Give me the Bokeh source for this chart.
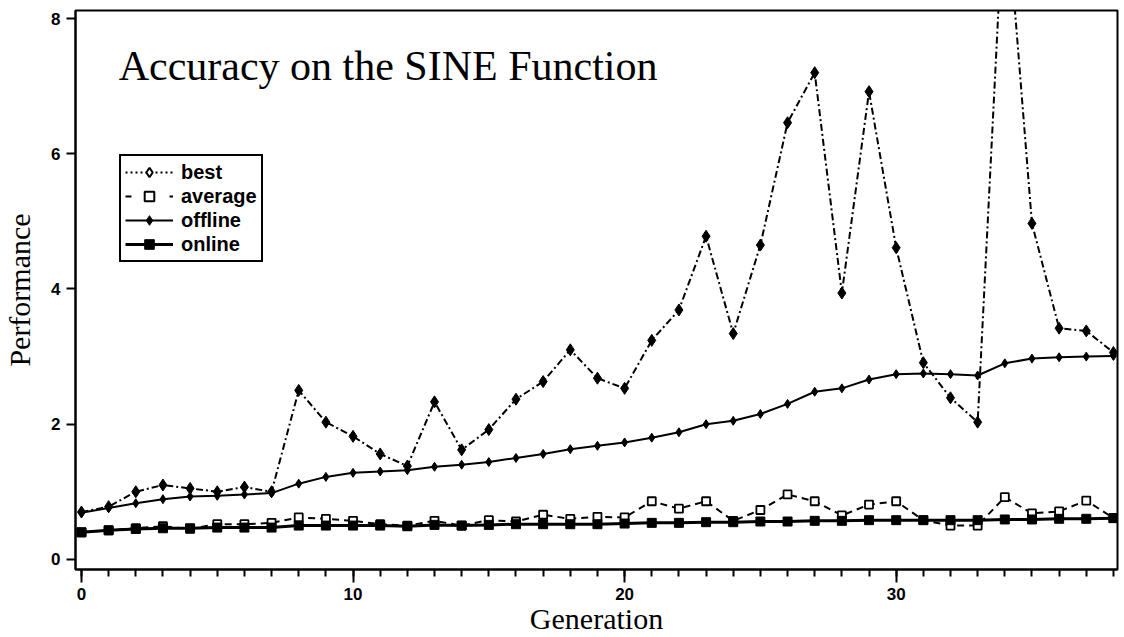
from bokeh.plotting import figure
from bokeh.models import (Legend, LegendItem, Label, FixedTicker, SingleIntervalTicker,
                          Range1d, ColumnDataSource)
from bokeh.embed import file_html
from bokeh.resources import INLINE

generation = list(range(39))
best = [0.70, 0.78, 1.00, 1.10, 1.05, 1.00, 1.07, 1.00, 2.50, 2.03,
        1.82, 1.56, 1.38, 2.33, 1.62, 1.92, 2.37, 2.63, 3.10, 2.68,
        2.53, 3.24, 3.69, 4.78, 3.34, 4.65, 6.46, 7.20, 3.94, 6.92,
        4.61, 2.91, 2.39, 2.03, 10.0, 4.97, 3.42, 3.38, 3.06]
average = [0.40, 0.43, 0.46, 0.49, 0.45, 0.52, 0.52, 0.54, 0.62, 0.60,
           0.57, 0.52, 0.50, 0.57, 0.50, 0.58, 0.56, 0.66, 0.60, 0.63,
           0.62, 0.86, 0.75, 0.86, 0.57, 0.73, 0.96, 0.86, 0.65, 0.81,
           0.86, 0.58, 0.50, 0.50, 0.92, 0.68, 0.71, 0.87, 0.61]
offline = [0.69, 0.76, 0.83, 0.89, 0.93, 0.94, 0.96, 0.98, 1.12, 1.22,
           1.28, 1.30, 1.32, 1.37, 1.40, 1.44, 1.50, 1.56, 1.63, 1.68,
           1.73, 1.80, 1.88, 2.00, 2.05, 2.15, 2.30, 2.48, 2.53, 2.66,
           2.74, 2.75, 2.74, 2.72, 2.90, 2.97, 2.99, 3.00, 3.01]
online = [0.40, 0.43, 0.45, 0.46, 0.46, 0.47, 0.47, 0.47, 0.50, 0.50,
          0.50, 0.50, 0.49, 0.51, 0.50, 0.51, 0.52, 0.52, 0.52, 0.52,
          0.53, 0.54, 0.54, 0.55, 0.55, 0.56, 0.56, 0.57, 0.57, 0.58,
          0.58, 0.58, 0.58, 0.58, 0.59, 0.59, 0.60, 0.60, 0.61]
y_ticks = [0, 2, 4, 6, 8]
title_text = "Accuracy on the SINE Function"
series_names = ["best", "average", "offline", "online"]

src = ColumnDataSource(dict(g=generation, best=best, average=average,
                            offline=offline, online=online))

p = figure(width=1120, height=637, output_backend="svg", toolbar_location=None,
           x_range=Range1d(-0.22, 38.15), y_range=Range1d(-0.15, 8.12),
           min_border_left=75, min_border_top=10, min_border_right=3, min_border_bottom=0)
p.xgrid.visible = False
p.ygrid.visible = False
p.outline_line_color = "black"
p.outline_line_width = 2
p.background_fill_color = "white"
p.border_fill_color = "white"

BLACK = "black"
# best
p.line("g", "best", source=src, line_color=BLACK, line_width=2, line_dash="7 3 2 3")
p.scatter("g", "best", source=src, marker="diamond", size=12, fill_color=BLACK, line_color=BLACK)
# offline
p.line("g", "offline", source=src, line_color=BLACK, line_width=2)
p.scatter("g", "offline", source=src, marker="diamond", size=9, fill_color=BLACK, line_color=BLACK)
# average
p.line("g", "average", source=src, line_color=BLACK, line_width=2, line_dash="7 5")
p.scatter("g", "average", source=src, marker="square", size=8, fill_color="white",
          line_color=BLACK, line_width=1.8)
# online
p.line("g", "online", source=src, line_color=BLACK, line_width=3)
p.scatter("g", "online", source=src, marker="square", size=9, fill_color=BLACK, line_color=BLACK)

# legend proxy renderers: one point far outside the visible ranges
proxy = ColumnDataSource(dict(x=[-100], y=[-100]))
lb = p.line("x", "y", source=proxy, line_color=BLACK, line_width=2, line_dash="2 3")
mb = p.scatter("x", "y", source=proxy, marker="diamond", size=14, fill_color="white",
               line_color=BLACK, line_width=2)
la = p.line("x", "y", source=proxy, line_color=BLACK, line_width=2, line_dash="6 16")
ma = p.scatter("x", "y", source=proxy, marker="square", size=12, fill_color="white",
               line_color=BLACK, line_width=2)
lo = p.line("x", "y", source=proxy, line_color=BLACK, line_width=2)
mo = p.scatter("x", "y", source=proxy, marker="diamond", size=14, fill_color=BLACK, line_color=BLACK)
ln = p.line("x", "y", source=proxy, line_color=BLACK, line_width=3)
mn = p.scatter("x", "y", source=proxy, marker="square", size=12, fill_color=BLACK, line_color=BLACK)

legend = Legend(items=[LegendItem(label=series_names[0], renderers=[lb, mb]),
                       LegendItem(label=series_names[1], renderers=[la, ma]),
                       LegendItem(label=series_names[2], renderers=[lo, mo]),
                       LegendItem(label=series_names[3], renderers=[ln, mn])],
                location=(44, 307), orientation="vertical",
                border_line_color=BLACK, border_line_width=2, border_line_alpha=1,
                background_fill_color="white", background_fill_alpha=1,
                label_text_font="Liberation Sans", label_text_font_style="bold",
                label_text_font_size="20px", label_text_color=BLACK,
                label_height=24, glyph_height=24,
                glyph_width=48, label_standoff=8, spacing=0, padding=4, margin=0)
p.add_layout(legend)

p.add_layout(Label(x=1.37, y=7.30, text=title_text, text_font="Liberation Serif",
                   text_font_size="42px", text_baseline="alphabetic", text_color=BLACK))

# axes
xa = p.xaxis[0]
xa.ticker = SingleIntervalTicker(interval=10, num_minor_ticks=10)
xa.axis_label = "Generation"
ya = p.yaxis[0]
ya.ticker = FixedTicker(ticks=y_ticks, minor_ticks=[])
ya.axis_label = "Performance"
for ax in (xa, ya):
    ax.axis_line_color = BLACK
    ax.axis_line_width = 2
    ax.major_tick_line_color = BLACK
    ax.major_tick_line_width = 2
    ax.minor_tick_line_color = BLACK
    ax.minor_tick_line_width = 2
    ax.major_tick_in = 0
    ax.minor_tick_in = 0
    ax.major_label_text_font = "Liberation Sans"
    ax.major_label_text_font_style = "bold"
    ax.major_label_text_font_size = "17px"
    ax.major_label_text_color = BLACK
    ax.axis_label_text_font = "Liberation Serif"
    ax.axis_label_text_font_style = "normal"
    ax.axis_label_text_font_size = "30px"
    ax.axis_label_text_color = BLACK
xa.major_tick_out = 13
xa.minor_tick_out = 7
xa.major_label_standoff = 5
xa.axis_label_standoff = -1
ya.major_tick_out = 9
ya.minor_tick_out = 0
ya.major_label_standoff = 6
ya.axis_label_standoff = 12

open("out.html", "w").write(file_html(p, INLINE))
